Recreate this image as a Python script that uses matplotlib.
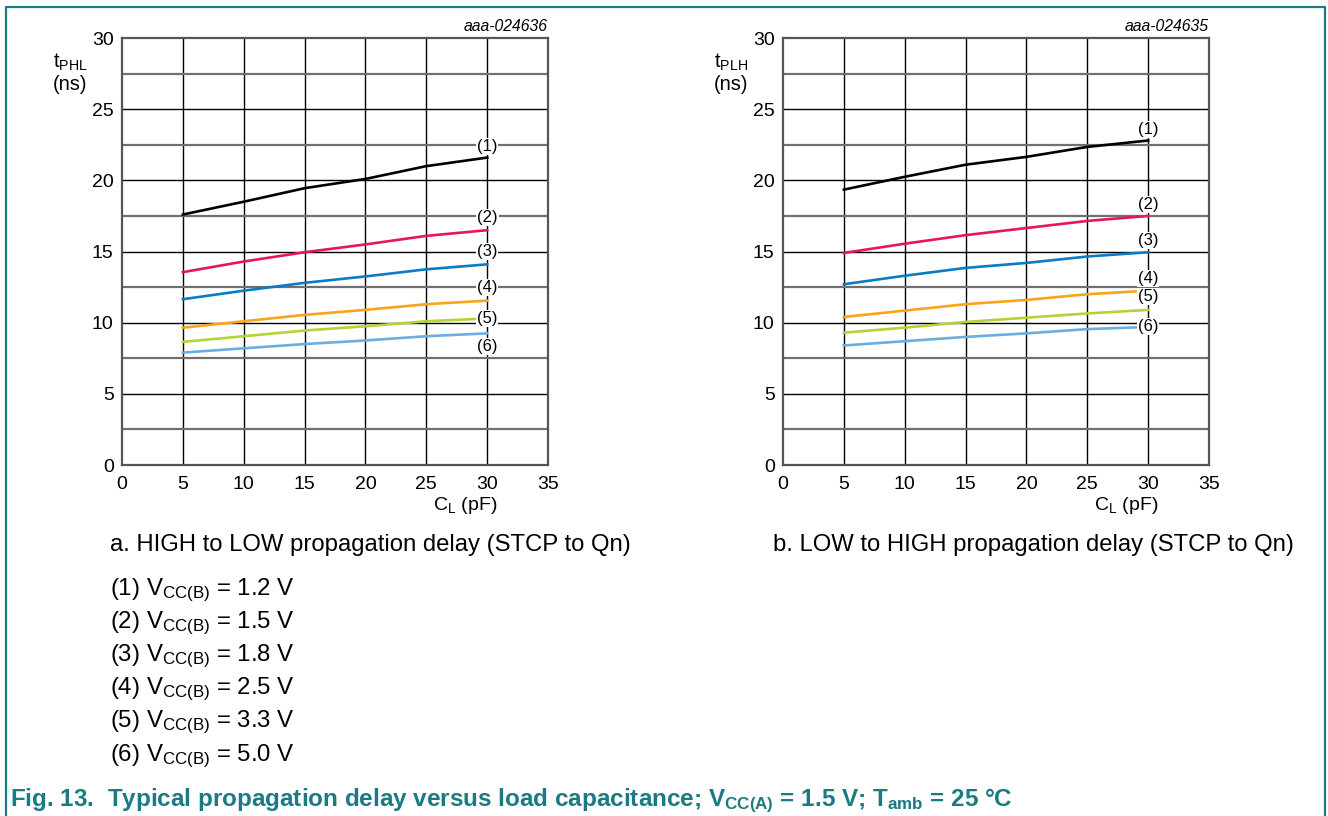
import numpy as np
import matplotlib
matplotlib.use("Agg")
import matplotlib.pyplot as plt
from matplotlib.lines import Line2D

plt.rcParams["font.family"] = ["Liberation Sans", "DejaVu Sans"]
plt.rcParams["mathtext.fontset"] = "custom"
plt.rcParams["mathtext.rm"] = "Liberation Sans"
plt.rcParams["mathtext.it"] = "Liberation Sans:italic"
plt.rcParams["mathtext.bf"] = "Liberation Sans:bold"

# load capacitance (pF)
cl = [5, 10, 15, 20, 25, 30]

# tPHL (ns), one list per VCC(B)
phl_1 = [17.6, 18.5, 19.45, 20.1, 21.0, 21.6]
phl_2 = [13.55, 14.3, 14.95, 15.5, 16.1, 16.5]
phl_3 = [11.65, 12.25, 12.8, 13.25, 13.75, 14.1]
phl_4 = [9.65, 10.1, 10.55, 10.9, 11.3, 11.55]
phl_5 = [8.65, 9.05, 9.45, 9.75, 10.1, 10.3]
phl_6 = [7.9, 8.2, 8.5, 8.75, 9.05, 9.25]

# tPLH (ns)
plh_1 = [19.35, 20.25, 21.1, 21.65, 22.35, 22.8]
plh_2 = [14.9, 15.55, 16.15, 16.65, 17.15, 17.5]
plh_3 = [12.7, 13.3, 13.85, 14.2, 14.65, 14.95]
plh_4 = [10.4, 10.85, 11.3, 11.6, 12.0, 12.25]
plh_5 = [9.3, 9.65, 10.05, 10.35, 10.65, 10.9]
plh_6 = [8.4, 8.7, 9.0, 9.25, 9.55, 9.7]

curve_names = ["(1)", "(2)", "(3)", "(4)", "(5)", "(6)"]
colors = ["#000000", "#e5175a", "#0a7cc1", "#f9a51a", "#b4d335", "#6cade0"]

# where the (n) tags sit at CL = 30 pF
phl_tag_y = [22.4, 17.4, 15.0, 12.5, 10.3, 8.3]
plh_tag_y = [23.6, 18.3, 15.75, 13.1, 11.85, 9.7]

vcc_labels = ["1.2 V", "1.5 V", "1.8 V", "2.5 V", "3.3 V", "5.0 V"]

TEAL = "#1b7a82"

fig = plt.figure(figsize=(13.28, 8.16), dpi=100)


def draw_panel(ax, curves, tag_y, ylab, code):
    ax.set_xlim(0, 35)
    ax.set_ylim(0, 30)
    ax.set_xticks(np.arange(0, 36, 5))
    ax.set_yticks(np.arange(0, 31, 5))
    ax.tick_params(length=0, labelsize=14, pad=6)
    ax.tick_params(axis="x", pad=8)
    for s in ax.spines.values():
        s.set_color("#555555")
        s.set_linewidth(1.6)

    for x in range(5, 35, 5):
        ax.axvline(x, color="black", lw=1.0, zorder=1)
    for y in np.arange(2.5, 30, 2.5):
        if y % 5 == 0:
            ax.axhline(y, color="black", lw=1.0, zorder=1)
        else:
            ax.axhline(y, color="#707070", lw=1.6, zorder=1)

    for vals, c in zip(curves, colors):
        ax.plot(cl, vals, color=c, lw=1.9, zorder=3)

    for name, ty in zip(curve_names, tag_y):
        ax.text(30, ty, name, ha="center", va="center", fontsize=12, zorder=4,
                bbox=dict(boxstyle="square,pad=0.06", fc="white", ec="none"))

    ax.text(-0.122, 28.3, ylab, transform=ax.get_yaxis_transform(),
            ha="center", va="center", fontsize=14.5)
    ax.text(-0.122, 26.7, "(ns)", transform=ax.get_yaxis_transform(),
            ha="center", va="center", fontsize=14.5)
    ax.text(28.2, -0.095, r"C$_\mathregular{L}$ (pF)", transform=ax.get_xaxis_transform(),
            ha="center", va="center", fontsize=14)
    ax.text(1.0, 1.026, code, transform=ax.transAxes, ha="right", va="center",
            fontsize=11.3, style="italic")


ax1 = fig.add_axes([0.0919, 0.4301, 0.3208, 0.5233])
draw_panel(ax1, [phl_1, phl_2, phl_3, phl_4, phl_5, phl_6], phl_tag_y,
           r"t$_\mathregular{PHL}$", "aaa-024636")

ax2 = fig.add_axes([0.5896, 0.4301, 0.3208, 0.5233])
draw_panel(ax2, [plh_1, plh_2, plh_3, plh_4, plh_5, plh_6], plh_tag_y,
           r"t$_\mathregular{PLH}$", "aaa-024635")

H = 816.0
W = 1328.0
fig.text(110 / W, 1 - 545 / H, "a. HIGH to LOW propagation delay (STCP to Qn)",
         ha="left", va="center", fontsize=17.2)
fig.text(773 / W, 1 - 545 / H, "b. LOW to HIGH propagation delay (STCP to Qn)",
         ha="left", va="center", fontsize=17.2)

for i, v in enumerate(vcc_labels):
    y = 590 + i * 33.2
    fig.text(110 / W, 1 - y / H, r"(%d) V$_\mathregular{CC(B)}$ = %s" % (i + 1, v),
             ha="left", va="center", fontsize=17.3)

fig.text(10 / W, 1 - 801 / H,
         r"Fig. 13.  Typical propagation delay versus load capacitance; "
         r"V$_\mathbf{CC(A)}$ = 1.5 V; T$_\mathbf{amb}$ = 25 °C",
         ha="left", va="center", fontsize=17.5, fontweight="bold", color=TEAL)

# teal frame round the figure (left, top, right)
fig.add_artist(Line2D([6 / W, 6 / W, 1325 / W, 1325 / W], [0, 1 - 7 / H, 1 - 7 / H, 0],
                      transform=fig.transFigure, color=TEAL, lw=1.6))

fig.savefig("out.png", dpi=100)
